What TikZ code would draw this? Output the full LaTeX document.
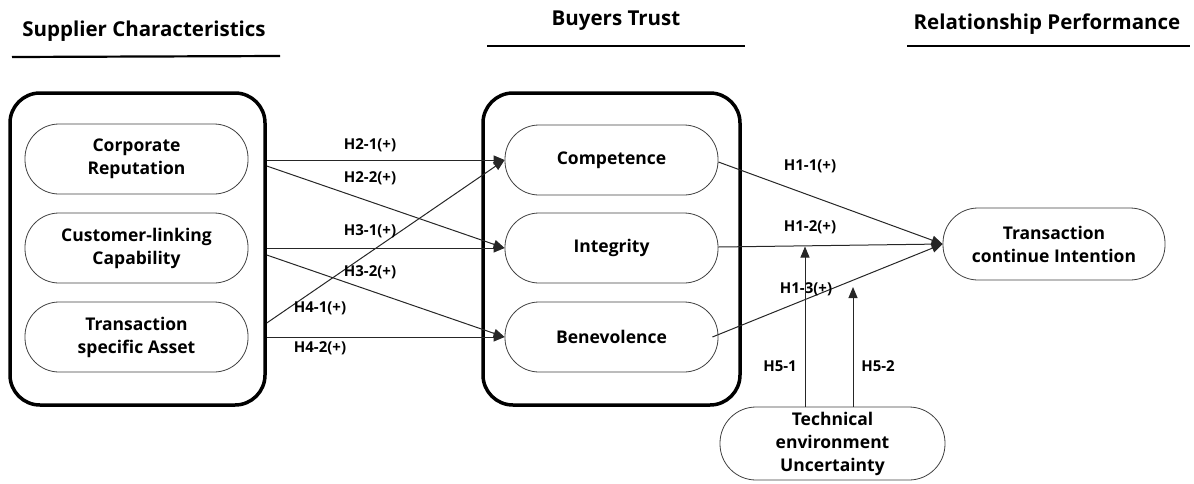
\documentclass[tikz,border=0pt]{standalone}
\usepackage{fontspec}
\setmainfont{Open Sans}
\usetikzlibrary{arrows.meta,calc}
\begin{document}
\begin{tikzpicture}[x=1pt,y=-1pt,
  head/.style={font=\fontsize{20.5}{24}\selectfont\bfseries, inner sep=0pt},
  bigbox/.style={draw, line width=3.5pt, rounded corners=30pt},
  pill/.style={draw=black!75, line width=0.8pt, rounded corners=34pt, minimum width=223pt, minimum height=70pt, align=center, font=\fontsize{17.5}{23}\selectfont\bfseries, inner sep=0pt},
  conn/.style={line width=1pt, draw=black!85, -{Triangle[length=11pt,width=9pt]}},
  lab/.style={font=\fontsize{15}{17}\selectfont\bfseries, inner sep=0pt}
]
\useasboundingbox (0,0) rectangle (1194,483);
% headings
\node[head] (h1) at (144,31) {Supplier Characteristics};
\draw[line width=2.2pt] (12,57) -- (280,56);
\node[head] (h2) at (616,21) {Buyers Trust};
\draw[line width=2.2pt] (487,46) -- (745,46);
\node[head] (h3) at (1047,24) {Relationship Performance};
\draw[line width=2.2pt] (907,46) -- (1190,46);
% big boxes
\node[bigbox, minimum width=255pt, minimum height=312pt] (lbox) at (137.5,249) {};
\node[bigbox, minimum width=257pt, minimum height=312pt] (mbox) at (611.5,249) {};
% left pills
\node[pill] (corp) at (136.5,159) {Corporate\\Reputation};
\node[pill] (cust) at (136.5,248) {Customer-linking\\Capability};
\node[pill] (tsa) at (136.5,337) {Transaction\\specific Asset};
% middle pills
\node[pill, minimum width=213pt] (comp) at (611.5,160) {Competence};
\node[pill, minimum width=213pt] (integ) at (611.5,248) {Integrity};
\node[pill, minimum width=213pt] (bene) at (611.5,337) {Benevolence};
% right
\node[pill, minimum width=222pt, minimum height=72pt, rounded corners=35pt] (tci) at (1054,244) {Transaction\\continue Intention};
\node[pill, minimum width=225pt, minimum height=73pt, rounded corners=36pt] (teu) at (832.5,443.5) {Technical\\environment\\Uncertainty};
% connectors left->middle
\draw[conn] (lbox.east |- comp.west) -- (comp.west);
\draw[conn] ($(lbox.east |- comp.west)+(0,6)$) -- (integ.west);
\draw[conn] (lbox.east |- integ.west) -- (integ.west);
\draw[conn] ($(lbox.east |- integ.west)+(0,7)$) -- (bene.west);
\draw[conn] ($(lbox.east |- bene.west)+(0,-14)$) -- (comp.west);
\draw[conn] (lbox.east |- bene.west) -- (bene.west);
% labels
\node[lab] (l21) at (370,145) {H2-1(+)};
\node[lab] (l22) at (370,178) {H2-2(+)};
\node[lab] (l31) at (370,231) {H3-1(+)};
\node[lab] (l32) at (370,272) {H3-2(+)};
\node[lab] (l41) at (320,308) {H4-1(+)};
\node[lab] (l42) at (320,348) {H4-2(+)};
% middle -> right
\coordinate (tip) at (tci.west);
\draw[conn] ($(comp.east)+(0,2)$) -- (tip);
\draw[conn] ($(integ.east)+(0,-1)$) -- (tip);
\draw[conn] ($(bene.east)+(-6,0)$) -- (tip);
\node[lab] (l11) at (810,166) {H1-1(+)};
\node[lab] (l12) at (810,227) {H1-2(+)};
\node[lab] (l13) at (806,289) {H1-3(+)};
% moderators
\coordinate (m1) at (805,246.5);
\coordinate (m2) at (853,287);
\draw[conn] (teu.north -| m1) -- (m1);
\draw[conn] (teu.north -| m2) -- (m2);
\node[lab] (l51) at (780,366) {H5-1};
\node[lab] (l52) at (878,366) {H5-2};
\end{tikzpicture}
\end{document}
